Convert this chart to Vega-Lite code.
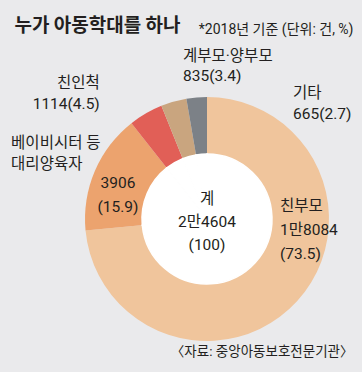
{
  "$schema": "https://vega.github.io/schema/vega-lite/v6.json",
  "autosize": {"type": "none"},
  "width": 300,
  "height": 300,
  "padding": {"left": 57, "top": 69, "right": 5, "bottom": 3},
  "background": "#eaeaec",
  "view": {"stroke": null},
  "config": {"font": "Roboto, 'Noto Sans CJK KR', sans-serif", "text": {"font": "Roboto, 'Noto Sans CJK KR', sans-serif", "color": "#231f20"}},
  "data": {
    "values": [
      {"group": "친부모", "value": 18084, "order": 1, "label": "친부모\n1만8084\n(73.5)", "name": ""},
      {"group": "대리양육자", "value": 3906, "order": 2, "label": "3906\n(15.9)", "name": "베이비시터 등\n대리양육자"},
      {"group": "친인척", "value": 1114, "order": 3, "label": "친인척\n1114(4.5)", "name": ""},
      {"group": "계부모·양부모", "value": 835, "order": 4, "label": "계부모·양부모\n835(3.4)", "name": ""},
      {"group": "기타", "value": 665, "order": 5, "label": "기타\n665(2.7)", "name": ""}
    ]
  },
  "layer": [
    {
      "mark": {"type": "point", "opacity": 0},
      "encoding": {
        "x": {"datum": 0, "type": "quantitative", "scale": {"domain": [0, 1]},
          "axis": {"title": "〈자료: 중앙아동보호전문기관〉", "domain": false, "ticks": false, "labels": false, "grid": false,
            "titleX": 296, "titleY": -14, "titleAlign": "right", "titleBaseline": "alphabetic", "titleAngle": 0,
            "titleFont": "Roboto, 'Noto Sans CJK KR', sans-serif", "titleFontSize": 13.5, "titleFontWeight": "normal", "titleColor": "#231f20", "titleLimit": 1000}},
        "y": {"datum": 0, "type": "quantitative", "scale": {"domain": [0, 1]},
          "axis": {"title": "누가 아동학대를 하나", "domain": false, "ticks": false, "labels": false, "grid": false,
            "titleX": -43, "titleY": -38, "titleAlign": "left", "titleBaseline": "alphabetic", "titleAngle": 0,
            "titleFont": "'Noto Sans CJK KR', sans-serif", "titleFontSize": 19, "titleFontWeight": "bold", "titleColor": "#231f20", "titleLimit": 1000}}
      }
    },
    {
      "mark": {"type": "point", "opacity": 0},
      "encoding": {
        "y": {"datum": 0, "type": "quantitative", "scale": {"domain": [0, 1]},
          "axis": {"orient": "right", "title": "*2018년 기준 (단위: 건, %)", "domain": false, "ticks": false, "labels": false, "grid": false,
            "titleX": -4, "titleY": -36, "titleAlign": "right", "titleBaseline": "alphabetic", "titleAngle": 0,
            "titleFont": "Roboto, 'Noto Sans CJK KR', sans-serif", "titleFontSize": 14, "titleFontWeight": "normal", "titleColor": "#231f20", "titleLimit": 1000}}
      }
    },
    {
      "mark": {"type": "arc", "outerRadius": 122, "innerRadius": 0},
      "encoding": {
        "theta": {"field": "value", "type": "quantitative", "stack": true},
        "order": {"field": "order", "type": "quantitative"},
        "color": {"field": "group", "type": "nominal", "legend": null,
          "scale": {"domain": ["친부모", "대리양육자", "친인척", "계부모·양부모", "기타"],
                    "range": ["#f0c59c", "#eca36e", "#e15f57", "#c9a57f", "#7c8187"]}}
      }
    },
    {
      "mark": {"type": "arc", "outerRadius": 65, "innerRadius": 0, "fill": "#ffffff", "stroke": "#ffffff", "strokeWidth": 1.5},
      "encoding": {
        "theta": {"field": "value", "type": "quantitative", "stack": true},
        "order": {"field": "order", "type": "quantitative"}
      }
    },
    {
      "mark": {"type": "text", "radius": 98.7, "align": "left", "baseline": "alphabetic", "dx": 0, "dy": -74, "lineBreak": "\n", "lineHeight": 24, "fontSize": 15.5},
      "encoding": {
        "theta": {"field": "value", "type": "quantitative", "stack": true},
        "order": {"field": "order", "type": "quantitative"},
        "text": {"condition": {"test": "datum.group === '친부모'", "field": "label"}, "value": ""}
      }
    },
    {
      "mark": {"type": "text", "radius": 93, "align": "center", "baseline": "alphabetic", "dx": -3.5, "dy": 6, "lineBreak": "\n", "lineHeight": 24, "fontSize": 15.5},
      "encoding": {
        "theta": {"field": "value", "type": "quantitative", "stack": true},
        "order": {"field": "order", "type": "quantitative"},
        "text": {"condition": {"test": "datum.group === '대리양육자'", "field": "label"}, "value": ""}
      }
    },
    {
      "mark": {"type": "text", "radius": 150, "align": "left", "baseline": "alphabetic", "dx": -58, "dy": -12, "lineBreak": "\n", "lineHeight": 21, "fontSize": 15.5},
      "encoding": {
        "theta": {"field": "value", "type": "quantitative", "stack": true},
        "order": {"field": "order", "type": "quantitative"},
        "text": {"condition": {"test": "datum.group === '대리양육자'", "field": "name"}, "value": ""}
      }
    },
    {
      "mark": {"type": "text", "radius": 160, "align": "right", "baseline": "alphabetic", "dx": -27, "dy": 7.4, "lineBreak": "\n", "lineHeight": 21, "fontSize": 15.5},
      "encoding": {
        "theta": {"field": "value", "type": "quantitative", "stack": true},
        "order": {"field": "order", "type": "quantitative"},
        "text": {"condition": {"test": "datum.group === '친인척'", "field": "label"}, "value": ""}
      }
    },
    {
      "mark": {"type": "text", "radius": 160, "align": "left", "baseline": "alphabetic", "dx": 19.7, "dy": -4, "lineBreak": "\n", "lineHeight": 20, "fontSize": 15.5},
      "encoding": {
        "theta": {"field": "value", "type": "quantitative", "stack": true},
        "order": {"field": "order", "type": "quantitative"},
        "text": {"condition": {"test": "datum.group === '계부모·양부모'", "field": "label"}, "value": ""}
      }
    },
    {
      "mark": {"type": "text", "radius": 117, "align": "left", "baseline": "alphabetic", "dx": 96, "dy": -4.4, "lineBreak": "\n", "lineHeight": 21, "fontSize": 15.5},
      "encoding": {
        "theta": {"field": "value", "type": "quantitative", "stack": true},
        "order": {"field": "order", "type": "quantitative"},
        "text": {"condition": {"test": "datum.group === '기타'", "field": "label"}, "value": ""}
      }
    },
    {
      "data": {"values": [{"label": "계\n2만4604\n(100)"}]},
      "mark": {"type": "text", "align": "center", "baseline": "alphabetic", "dy": -15, "lineBreak": "\n", "lineHeight": 23, "fontSize": 15.5},
      "encoding": {"text": {"field": "label"}}
    }
  ],
  "resolve": {"scale": {"y": "independent"}, "axis": {"y": "independent"}}
}
